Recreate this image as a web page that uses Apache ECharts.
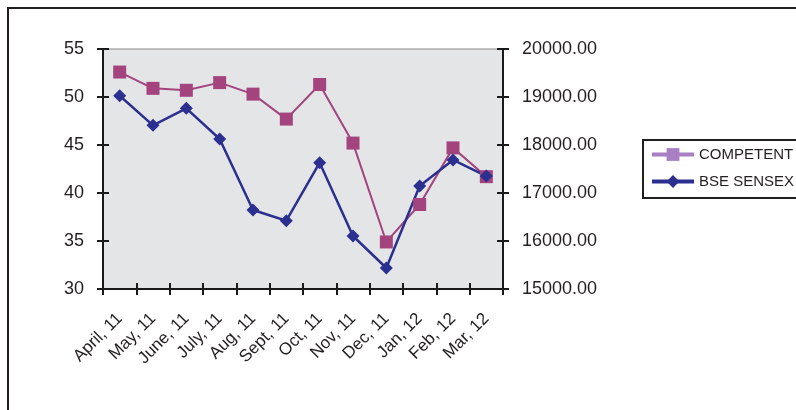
<!DOCTYPE html>
<html>
<head>
<meta charset="utf-8">
<script src="https://cdn.jsdelivr.net/npm/echarts@6/dist/echarts.min.js"></script>
<style>
    html, body { margin: 0; padding: 0; background: #fff; }
    #chart { width: 796px; height: 410px; }
</style>
</head>
<body>
<div id="chart"></div>
<script>
'use strict';

var months = ['April, 11', 'May, 11', 'June, 11', 'July, 11', 'Aug, 11', 'Sept, 11',
    'Oct, 11', 'Nov, 11', 'Dec, 11', 'Jan, 12', 'Feb, 12', 'Mar, 12'];
var competent = [52.6, 50.9, 50.7, 51.5, 50.3, 47.7, 51.3, 45.2, 34.9, 38.8, 44.7, 41.7];
var sensex = [19027, 18410, 18764, 18125, 16646, 16423, 17632, 16104, 15438, 17146, 17688, 17354];

var FONT = 'Liberation Sans, Arial, sans-serif';
var PINK = '#a3447f';
var NAVY = '#2b3090';

var chart = echarts.init(document.getElementById('chart'));

// 左右轴各加一条只画内侧刻度的影子轴，让刻度线穿过轴线
function yAxis(pos, min, max, interval, shadow, fmt) {
    return {
        type: 'value',
        position: pos,
        min: min,
        max: max,
        interval: interval,
        splitLine: { show: false },
        axisLine: { show: !shadow, onZero: false, lineStyle: { color: '#1a1a1a', width: 2 } },
        axisTick: { show: true, inside: shadow, length: 6, lineStyle: { color: '#1a1a1a', width: 2 } },
        axisLabel: {
            show: !shadow,
            margin: 19,
            color: '#231f20',
            fontSize: 18,
            fontFamily: FONT,
            formatter: fmt
        }
    };
}

function xAxis(shadow) {
    return {
        type: 'category',
        data: months,
        position: 'bottom',
        boundaryGap: true,
        axisLine: { show: !shadow, onZero: false, lineStyle: { color: '#1a1a1a', width: 2 } },
        axisTick: { show: true, inside: shadow, length: 6, lineStyle: { color: '#1a1a1a', width: 2 } },
        axisLabel: {
            show: !shadow,
            rotate: 45,
            interval: 0,
            margin: 27,
            color: '#231f20',
            fontSize: 17,
            fontFamily: FONT
        }
    };
}

chart.setOption({
    animation: false,
    backgroundColor: '#fff',
    graphic: [{
        type: 'rect',
        shape: { x: 8, y: 8, width: 800, height: 420 },
        style: { fill: 'none', stroke: '#231f20', lineWidth: 2 },
        silent: true
    }],
    grid: {
        left: 103,
        right: 293,
        top: 49,
        bottom: 121,
        show: true,
        backgroundColor: '#e4e5e7',
        borderColor: '#8a8a8a',
        borderWidth: 1
    },
    legend: {
        orient: 'vertical',
        left: 643,
        top: 140,
        padding: [7, 6, 9, 7],
        itemGap: 12,
        itemWidth: 42,
        itemHeight: 16,
        borderColor: '#231f20',
        borderWidth: 2,
        textStyle: { color: '#231f20', fontSize: 15, fontFamily: FONT },
        data: [
            { name: 'COMPETENT', itemStyle: { color: '#a77fc2' }, lineStyle: { color: '#a77fc2', width: 4 } },
            { name: 'BSE SENSEX', itemStyle: { color: NAVY }, lineStyle: { color: NAVY, width: 4 } }
        ]
    },
    xAxis: [xAxis(false), xAxis(true)],
    yAxis: [
        yAxis('left', 30, 55, 5, false),
        yAxis('right', 15000, 20000, 1000, false, function (v) { return v.toFixed(2); }),
        yAxis('left', 30, 55, 5, true),
        yAxis('right', 15000, 20000, 1000, true)
    ],
    series: [{
        name: 'COMPETENT',
        type: 'line',
        yAxisIndex: 0,
        data: competent,
        symbol: 'rect',
        symbolSize: 13,
        color: PINK,
        lineStyle: { color: PINK, width: 2 },
        itemStyle: { color: PINK }
    }, {
        name: 'BSE SENSEX',
        type: 'line',
        yAxisIndex: 1,
        data: sensex,
        symbol: 'diamond',
        symbolSize: 13,
        color: NAVY,
        lineStyle: { color: NAVY, width: 2.5 },
        itemStyle: { color: NAVY }
    }]
});
</script>
</body>
</html>
